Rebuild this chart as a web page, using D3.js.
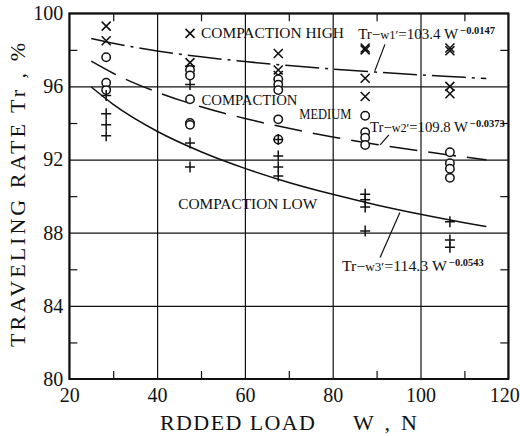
<!DOCTYPE html>
<html lang="en">
<head>
  <meta charset="UTF-8" />
  <title>Traveling rate vs added load</title>
  <script src="https://d3js.org/d3.v7.min.js"></script>
  <style>
    body {
      margin: 0;
      background: white;
    }
    svg {
      display: block;
      font-family: "Liberation Serif", "DejaVu Serif", serif;
    }
    .grid line {
      stroke: #111;
      stroke-width: 1.2;
    }
    .grid path {
      display: none;
    }
    .label {
      font-size: 15px;
      fill: #111;
    }
  </style>
</head>
<body>
  <svg width="520" height="436"></svg>

  <script>
    // tick values
    const xTicks = [20, 40, 60, 80, 100, 120];
    const xMinor = [30, 50, 70, 90, 110];
    const yTicks = [80, 84, 88, 92, 96, 100];
    const yMinor = [82, 86, 90, 94, 98];

    const highPts = [
      [28.4, 99.3], [28.4, 98.5],
      [47.5, 97.3], [47.5, 96.9],
      [67.6, 97.8], [67.6, 96.9], [67.6, 96.6],
      [87.4, 98.1], [87.4, 98.0], [87.4, 96.45], [87.4, 95.45],
      [106.7, 98.1], [106.7, 97.95], [106.7, 96.0], [106.7, 95.6]
    ];
    const mediumPts = [
      [28.4, 97.6], [28.4, 96.2], [28.4, 95.8],
      [47.5, 96.9], [47.5, 96.6], [47.5, 95.3], [47.5, 94.0], [47.5, 93.9],
      [67.6, 96.4], [67.6, 96.1], [67.6, 95.8], [67.6, 94.2], [67.6, 93.1],
      [87.4, 94.4], [87.4, 93.5], [87.4, 93.2], [87.4, 92.8],
      [106.7, 92.4], [106.7, 91.8], [106.7, 91.5], [106.7, 91.0]
    ];
    const lowPts = [
      [28.4, 95.5], [28.4, 94.5], [28.4, 93.9], [28.4, 93.3],
      [47.5, 96.1], [47.5, 92.9], [47.5, 91.6],
      [67.6, 93.1], [67.6, 92.2], [67.6, 91.6], [67.6, 91.1],
      [87.4, 90.1], [87.4, 89.8], [87.4, 89.4], [87.4, 88.1],
      [106.7, 88.6], [106.7, 87.6], [106.7, 87.2]
    ];

    // fitted curves at these loads
    const curveLoads = [25, 30, 40, 50, 60, 70, 80, 90, 100, 110, 115];
    const highCurve = [98.62, 98.36, 97.94, 97.62, 97.36, 97.14, 96.95, 96.78, 96.63, 96.50, 96.43];
    const mediumCurve = [97.38, 96.72, 95.69, 94.89, 94.25, 93.71, 93.24, 92.83, 92.47, 92.14, 91.99];
    const lowCurve = [95.97, 95.02, 93.55, 92.43, 91.52, 90.75, 90.10, 89.52, 89.01, 88.55, 88.34];

    const svg = d3.select("svg");
    const width = +svg.attr("width");
    const height = +svg.attr("height");
    const margin = { top: 13.3, right: 11.7, bottom: 57, left: 69.3 };
    const innerW = width - margin.left - margin.right;
    const innerH = height - margin.top - margin.bottom;

    const g = svg.append("g")
      .attr("transform", `translate(${margin.left},${margin.top})`);

    const x = d3.scaleLinear().domain([20, 120]).range([0, innerW]);
    const y = d3.scaleLinear().domain([80, 100]).range([innerH, 0]);

    // grid + tick labels
    const xAxisG = g.append("g")
      .attr("class", "grid")
      .attr("transform", `translate(0,${innerH})`)
      .call(d3.axisBottom(x).tickValues(xTicks).tickSize(-innerH).tickPadding(9));

    const yAxisG = g.append("g")
      .attr("class", "grid")
      .call(d3.axisLeft(y).tickValues(yTicks).tickSize(-innerW).tickPadding(6));

    [xAxisG, yAxisG].forEach(a => {
      a.attr("font-family", null).attr("font-size", null);
      a.selectAll("text")
        .style("font-family", "'Liberation Serif', serif")
        .style("font-size", "20px")
        .attr("fill", "#111");
    });
    // last x label sits against the right edge
    xAxisG.selectAll(".tick text")
      .filter(d => d === 120)
      .attr("text-anchor", "end")
      .attr("x", 11);

    // minor ticks on all four sides
    g.append("g").attr("class", "grid")
      .attr("transform", `translate(0,${innerH})`)
      .call(d3.axisBottom(x).tickValues(xMinor).tickSize(-8).tickFormat(""));
    g.append("g").attr("class", "grid")
      .call(d3.axisTop(x).tickValues(xMinor).tickSize(-8).tickFormat(""));
    g.append("g").attr("class", "grid")
      .call(d3.axisLeft(y).tickValues(yMinor).tickSize(-8).tickFormat(""));
    g.append("g").attr("class", "grid")
      .attr("transform", `translate(${innerW},0)`)
      .call(d3.axisRight(y).tickValues(yMinor).tickSize(-8).tickFormat(""));

    g.append("rect")
      .attr("width", innerW)
      .attr("height", innerH)
      .attr("fill", "none")
      .attr("stroke", "#111")
      .attr("stroke-width", 2);

    // curves
    const line = d3.line()
      .x(d => x(d[0]))
      .y(d => y(d[1]))
      .curve(d3.curveMonotoneX);

    const curves = [
      { vals: highCurve, dash: "34,6,3,6" },
      { vals: mediumCurve, dash: "28,11" },
      { vals: lowCurve, dash: null }
    ];
    curves.forEach(c => {
      g.append("path")
        .datum(curveLoads.map((w, i) => [w, c.vals[i]]))
        .attr("d", line)
        .attr("fill", "none")
        .attr("stroke", "#111")
        .attr("stroke-width", 1.5)
        .attr("stroke-dasharray", c.dash);
    });

    // markers
    const xMark = "M-4.5,-4.5L4.5,4.5M-4.5,4.5L4.5,-4.5";
    const plusMark = "M-5,0L5,0M0,-5.5L0,5.5";

    g.selectAll(".hi")
      .data(highPts)
      .enter()
      .append("path")
      .attr("class", "hi")
      .attr("transform", d => `translate(${x(d[0])},${y(d[1])})`)
      .attr("d", xMark)
      .attr("stroke", "#111")
      .attr("stroke-width", 1.6)
      .attr("fill", "none");

    g.selectAll(".med")
      .data(mediumPts)
      .enter()
      .append("circle")
      .attr("class", "med")
      .attr("cx", d => x(d[0]))
      .attr("cy", d => y(d[1]))
      .attr("r", 4.2)
      .attr("stroke", "#111")
      .attr("stroke-width", 1.5)
      .attr("fill", "white");

    g.selectAll(".lo")
      .data(lowPts)
      .enter()
      .append("path")
      .attr("class", "lo")
      .attr("transform", d => `translate(${x(d[0])},${y(d[1])})`)
      .attr("d", plusMark)
      .attr("stroke", "#111")
      .attr("stroke-width", 1.5)
      .attr("fill", "none");

    // labels inside the plot
    g.append("path")
      .attr("transform", `translate(${x(47.5)},${y(98.9)})`)
      .attr("d", xMark)
      .attr("stroke", "#111")
      .attr("stroke-width", 1.6);

    const labels = [
      { text: "COMPACTION  HIGH", w: 50, tr: 98.65, len: 143 },
      { text: "COMPACTION", w: 50.1, tr: 95.0, len: 96 },
      { text: "MEDIUM", w: 72.4, tr: 94.2, len: 52 },
      { text: "COMPACTION  LOW", w: 44.8, tr: 89.3, len: 139 }
    ];
    labels.forEach(l => {
      g.append("text")
        .attr("class", "label")
        .attr("x", x(l.w))
        .attr("y", y(l.tr))
        .attr("textLength", l.len)
        .attr("lengthAdjust", "spacingAndGlyphs")
        .text(l.text);
    });

    // equations with leader lines
    const eqs = [
      { name: "w1", coef: "103.4", exp: "\u22120.0147", w: 85.8, tr: 98.6, len: 100, lead: [[91.9, 98.3], [89.6, 96.85]] },
      { name: "w2", coef: "109.8", exp: "\u22120.0373", w: 88.5, tr: 93.5, len: 98, lead: [[92.8, 93.35], [90.8, 92.8]] },
      { name: "w3", coef: "114.3", exp: "\u22120.0543", w: 82.1, tr: 85.9, len: 105, lead: [[95.3, 89.1], [90.8, 86.65]] }
    ];
    eqs.forEach(e => {
      const t = g.append("text")
        .attr("class", "label")
        .attr("x", x(e.w))
        .attr("y", y(e.tr));
      const main = t.append("tspan")
        .attr("textLength", e.len)
        .attr("lengthAdjust", "spacingAndGlyphs")
        .style("font-size", "14.5px");
      main.append("tspan").text("Tr\u2212");
      main.append("tspan").style("font-size", "12px").text(e.name + "\u2032");
      main.append("tspan").text("=" + e.coef + " W");
      t.append("tspan")
        .attr("dy", -5)
        .attr("dx", 2)
        .style("font-size", "10.5px")
        .style("font-weight", "bold")
        .text(e.exp);

      g.append("line")
        .attr("x1", x(e.lead[0][0]))
        .attr("y1", y(e.lead[0][1]))
        .attr("x2", x(e.lead[1][0]))
        .attr("y2", y(e.lead[1][1]))
        .attr("stroke", "#111")
        .attr("stroke-width", 1.2);
    });

    // axis titles
    svg.append("text")
      .attr("transform", `translate(25,347) rotate(-90)`)
      .attr("textLength", 304)
      .attr("lengthAdjust", "spacing")
      .style("font-size", "22px")
      .style("fill", "#111")
      .text("TRAVELING  RATE   Tr , %");

    svg.append("text")
      .attr("x", 160)
      .attr("y", 430)
      .attr("textLength", 155)
      .attr("lengthAdjust", "spacing")
      .style("font-size", "22px")
      .style("fill", "#111")
      .text("RDDED  LOAD");

    svg.append("text")
      .attr("x", 353)
      .attr("y", 430)
      .attr("textLength", 64)
      .attr("lengthAdjust", "spacing")
      .style("font-size", "22px")
      .style("fill", "#111")
      .text("W , N");
  </script>
</body>
</html>
